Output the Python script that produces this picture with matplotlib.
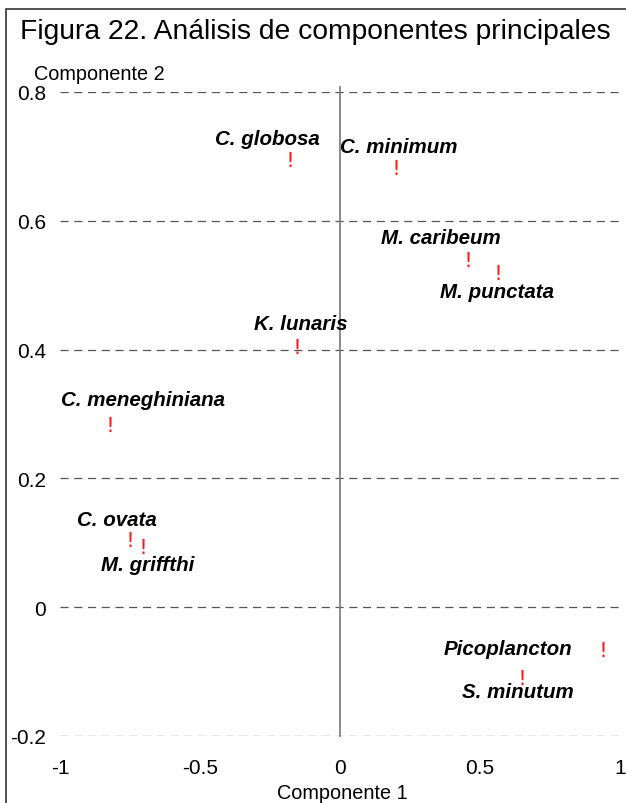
import matplotlib
matplotlib.use('Agg')
import matplotlib.pyplot as plt
from matplotlib.patches import Rectangle

plt.rcParams['font.family'] = ['Liberation Sans', 'DejaVu Sans']

species = ['C. globosa', 'C. minimum', 'M. caribeum', 'M. punctata', 'K. lunaris',
           'C. meneghiniana', 'C. ovata', 'M. griffthi', 'Picoplancton', 'S. minutum']
comp1 = [-0.18, 0.20, 0.457, 0.564, -0.154, -0.82, -0.75, -0.704, 0.94, 0.65]
comp2 = [0.696, 0.683, 0.54, 0.52, 0.405, 0.284, 0.106, 0.095, -0.065, -0.109]
# label offsets in pixels (dx, dy)
offsets = [(-22, 20), (3, 21), (-27, 22), (-1, -19), (4, 23),
           (33, 25), (-13, 19), (5, -18), (-95, 1), (-4, -14)]

xticks = [-1, -0.5, 0, 0.5, 1]
xticklabels = ['-1', '-0.5', '0', '0.5', '1']
yticks = [-0.2, 0, 0.2, 0.4, 0.6, 0.8]
yticklabels = ['-0.2', '0', '0.2', '0.4', '0.6', '0.8']

fig = plt.figure(figsize=(6.26, 8.04), dpi=100)
ax = fig.add_axes([60/626, 1 - 737/804, 560/626, 644/804])

# figure frame
fig.patches.append(Rectangle((6/626, -0.1), 1.2, (804 - 10)/804 + 0.1, transform=fig.transFigure,
                             fill=False, edgecolor='#333333', linewidth=1.2, clip_on=False))

for y in yticks:
    ax.axhline(y, color='#555555', linestyle=(0, (6.5, 4.5)), linewidth=0.9, zorder=1)
ax.plot([0, 0], [-0.2, 0.807], color='#777777', linewidth=1.2, clip_on=False, zorder=1)

ax.scatter(comp1, comp2, marker='$!$', s=120, color='#ff1a1a', linewidths=0, zorder=3)

for name, x, y, (dx, dy) in zip(species, comp1, comp2, offsets):
    ax.annotate(name, (x, y), xytext=(dx * 0.72, dy * 0.72), textcoords='offset points',
                ha='center', va='center', fontsize=14.8, fontweight='bold', fontstyle='italic',
                color='black', zorder=4)

ax.set_xlim(-1, 1)
ax.set_ylim(-0.2, 0.8)
ax.set_xticks(xticks)
ax.set_xticklabels(xticklabels)
ax.set_yticks(yticks)
ax.set_yticklabels(yticklabels)
ax.tick_params(length=0, labelsize=15)
ax.tick_params(axis='x', pad=16)
ax.tick_params(axis='y', pad=10)
for s in ax.spines.values():
    s.set_visible(False)

fig.text(315/626, 1 - 32/804, 'Figura 22. Análisis de componentes principales',
         ha='center', va='center', fontsize=20.3)
fig.text(34/626, 1 - 75/804, 'Componente 2', ha='left', va='center', fontsize=14.3)
fig.text(342/626, 1 - 794/804, 'Componente 1', ha='center', va='center', fontsize=14.3)

fig.savefig('out.png', dpi=100)
